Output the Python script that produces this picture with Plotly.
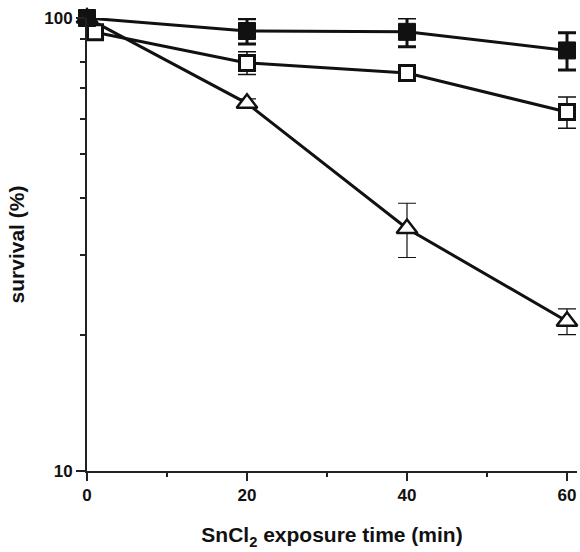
import plotly.graph_objects as go

# Exposure times (min) and survival (%) with error bars for each strain
time_filled = [0, 20, 40, 60]
surv_filled = [100, 93.6, 93.2, 84.8]
err_filled = [2.5, 6.0, 6.8, 8.0]

time_open = [1, 20, 40, 60]
surv_open = [93.0, 79.6, 75.6, 62.0]
err_open = [0, 4.6, 1.5, 4.9]

time_tri = [0, 20, 40, 60]
surv_tri = [100, 64.8, 34.3, 21.4]
err_tri = [0, 1.5, 4.7, 1.4]

x_ticks = [0, 20, 40, 60]

FONT = "Liberation Sans, Arial, Helvetica, sans-serif"
INK = "#111111"

fig = go.Figure()

fig.add_trace(go.Scatter(
    x=time_tri, y=surv_tri, mode="lines+markers", cliponaxis=False,
    line=dict(color=INK, width=3),
    marker=dict(symbol="triangle-up", size=18, color="white",
                line=dict(color=INK, width=2.5)),
    error_y=dict(type="data", array=err_tri, color=INK, thickness=1.2, width=9),
    showlegend=False,
))

fig.add_trace(go.Scatter(
    x=time_open, y=surv_open, mode="lines+markers", cliponaxis=False,
    line=dict(color=INK, width=3),
    marker=dict(symbol="square", size=15, color="white",
                line=dict(color=INK, width=3)),
    error_y=dict(type="data", array=err_open, color=INK, thickness=1.5, width=9),
    showlegend=False,
))

fig.add_trace(go.Scatter(
    x=time_filled, y=surv_filled, mode="lines+markers", cliponaxis=False,
    line=dict(color=INK, width=3),
    marker=dict(symbol="square", size=17, color=INK,
                line=dict(color=INK, width=1)),
    error_y=dict(type="data", array=err_filled, color=INK, thickness=3, width=9),
    showlegend=False,
))

fig.update_layout(
    width=580, height=552,
    margin=dict(l=87, r=3, t=18, b=81),
    paper_bgcolor="white", plot_bgcolor="white",
    font=dict(family=FONT, color=INK, size=17, weight="bold"),
)

fig.update_xaxes(
    range=[0, 61.25], tickmode="array", tickvals=x_ticks,
    ticks="outside", ticklen=8, tickwidth=2, tickcolor="#222222",
    showline=True, linewidth=2, linecolor="#222222",
    showgrid=False, zeroline=False,
    tickfont=dict(size=17, weight="bold"),
    minor=dict(dtick=10, tick0=0, ticks="outside", ticklen=4, tickwidth=2,
               tickcolor="#222222", showgrid=False),
    title=dict(text="SnCl<sub>2</sub> exposure time (min)",
               font=dict(size=21, weight="bold"), standoff=23),
)

fig.update_yaxes(
    type="log", range=[1, 2], tickmode="linear", tick0=0, dtick=1,
    ticks="outside", ticklen=9, tickwidth=2, tickcolor="#222222",
    showline=True, linewidth=2, linecolor="#222222",
    showgrid=False, zeroline=False,
    tickfont=dict(size=17, weight="bold"),
    minor=dict(dtick="D1", ticks="outside", ticklen=5,
               tickwidth=2, tickcolor="#222222", showgrid=False),
    title=dict(text="survival (%)", font=dict(size=21, weight="bold"), standoff=14),
)

fig.write_html("out.html")
